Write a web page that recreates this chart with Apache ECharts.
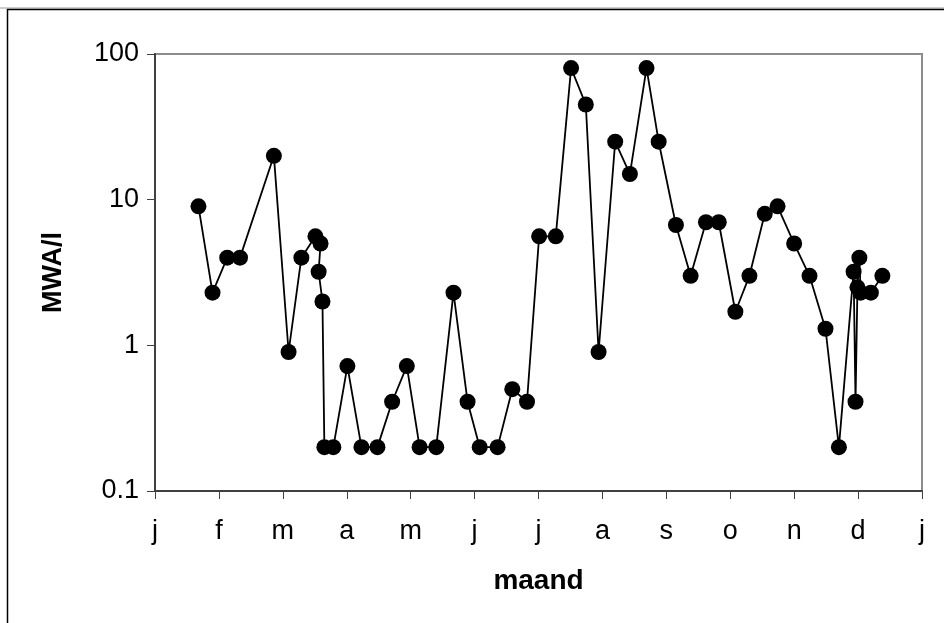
<!DOCTYPE html>
<html>
<head>
<meta charset="utf-8">
<script src="https://cdn.jsdelivr.net/npm/echarts@6/dist/echarts.min.js"></script>
<style>
html,body{margin:0;padding:0;background:#fff;}
#chart{width:944px;height:623px;}
</style>
</head>
<body>
<div id="chart"></div>
<script>
// Month labels for ticks 0..12
const monthLabels = ['j','f','m','a','m','j','j','a','s','o','n','d','j'];
// Sample times in months since 1 Jan
const sampleMonths = [0.68,0.90,1.13,1.33,1.86,2.09,2.29,2.51,2.59,2.56,2.62,2.65,2.79,3.01,3.23,3.48,3.71,3.94,
  4.14,4.40,4.67,4.89,5.08,5.36,5.59,5.82,6.01,6.27,6.51,6.74,6.94,7.20,7.43,7.69,7.88,
  8.15,8.38,8.62,8.82,9.08,9.30,9.54,9.74,10.00,10.24,10.49,10.70,10.93,10.96,10.99,11.02,11.04,11.20,11.38];
// MWA/l values
const mwaValues = [9,2.3,4,4,20,0.9,4,5.6,5,3.2,2,0.2,0.2,0.72,0.2,0.2,0.41,0.72,
  0.2,0.2,2.3,0.41,0.2,0.2,0.5,0.41,5.6,5.6,80,45,0.9,25,15,80,25,
  6.7,3,7,7,1.7,3,8,9,5,3,1.3,0.2,3.2,0.41,2.5,4,2.3,2.3,3];
const yTicks = [0.1,1,10,100];

const data = sampleMonths.map((m,i)=>[m, mwaValues[i]]);
const chart = echarts.init(document.getElementById('chart'));
const font = 'Liberation Sans, Arial, sans-serif';
function fmtY(v){
  let best = yTicks[0];
  yTicks.forEach(t=>{ if (Math.abs(Math.log10(t)-Math.log10(v)) < Math.abs(Math.log10(best)-Math.log10(v))) best=t; });
  return String(best);
}
chart.setOption({
  animation:false,
  backgroundColor:'#fff',
  graphic:[
    {type:'line', shape:{x1:0,y1:8,x2:944,y2:8}, style:{stroke:'#999',lineWidth:1}},
    {type:'rect', shape:{x:7.5,y:9.5,width:1000,height:1000}, style:{fill:null,stroke:'#000',lineWidth:1.5}}
  ],
  grid:{left:155, top:54, right:22, bottom:132, show:true, borderColor:'#8c8c8c', borderWidth:2, backgroundColor:'transparent'},
  xAxis:{
    type:'value', min:0, max:12, interval:1,
    name:'maand', nameLocation:'middle', nameGap:76,
    nameTextStyle:{fontFamily:font, fontSize:28, fontWeight:'bold', color:'#000'},
    axisLine:{show:true, onZero:false, lineStyle:{color:'#404040', width:2}},
    axisTick:{show:true, inside:false, length:8, lineStyle:{color:'#404040', width:1}},
    axisLabel:{fontFamily:font, fontSize:27, color:'#000', margin:27,
      formatter:(v)=>monthLabels[Math.round(v)]},
    splitLine:{show:false}
  },
  yAxis:{
    type:'log', logBase:10, min:0.1, max:100,
    name:'MWA/l', nameLocation:'middle', nameGap:88, nameRotate:90,
    nameTextStyle:{fontFamily:font, fontSize:27, fontWeight:'bold', color:'#000'},
    axisLine:{show:true, lineStyle:{color:'#404040', width:2}},
    axisTick:{show:true, length:8, lineStyle:{color:'#404040', width:1}},
    axisLabel:{fontFamily:font, fontSize:27, color:'#000', margin:16, formatter:fmtY},
    splitLine:{show:false}
  },
  series:[{
    type:'line', data:data,
    symbol:'circle', symbolSize:16,
    itemStyle:{color:'#000'},
    lineStyle:{color:'#000', width:1.8}
  }]
});
</script>
</body>
</html>
